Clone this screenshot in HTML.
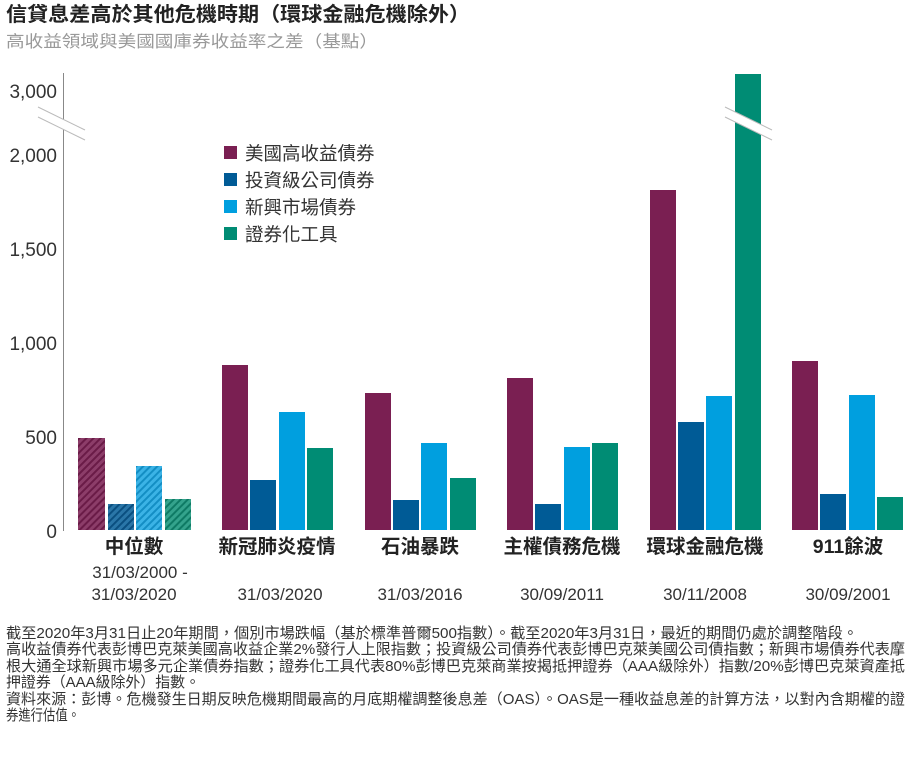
<!DOCTYPE html>
<html><head><meta charset="utf-8"><style>
body{margin:0;background:#fff;width:916px;height:769px;overflow:hidden;}
</style></head><body>
<svg width="916" height="769" style="position:absolute;left:0;top:0" font-family="Liberation Sans, Noto Sans CJK TC, sans-serif">
<defs>
<pattern id="hp" width="5" height="5" patternUnits="userSpaceOnUse" patternTransform="rotate(45)"><rect width="5" height="5" fill="#8c3d69"/><rect width="2" height="5" fill="#6a1b47"/></pattern>
<pattern id="hb" width="5" height="5" patternUnits="userSpaceOnUse" patternTransform="rotate(45)"><rect width="5" height="5" fill="#2a76a8"/><rect width="2" height="5" fill="#0a4f80"/></pattern>
<pattern id="hl" width="5" height="5" patternUnits="userSpaceOnUse" patternTransform="rotate(45)"><rect width="5" height="5" fill="#3bb3e6"/><rect width="2" height="5" fill="#138ec4"/></pattern>
<pattern id="hg" width="5" height="5" patternUnits="userSpaceOnUse" patternTransform="rotate(45)"><rect width="5" height="5" fill="#34a38c"/><rect width="2" height="5" fill="#0e7a64"/></pattern>
</defs>
<text x="6" y="21" font-size="20" font-weight="bold" fill="#222" textLength="464" lengthAdjust="spacingAndGlyphs">信貸息差高於其他危機時期（環球金融危機除外）</text>
<text x="6" y="47" font-size="16.5" fill="#999" textLength="372" lengthAdjust="spacingAndGlyphs">高收益領域與美國國庫券收益率之差（基點）</text>
<line x1="63.5" y1="73" x2="63.5" y2="531" stroke="#888" stroke-width="1"/>
<polygon points="38,107 85,130 85,140 38,117" fill="#fff"/>
<line x1="38" y1="107" x2="85" y2="130" stroke="#bbb"/>
<line x1="38" y1="117" x2="85" y2="140" stroke="#bbb"/>
<g font-size="19" fill="#333" text-anchor="end">
<text x="57" y="98">3,000</text>
<text x="57" y="162">2,000</text>
<text x="57" y="256">1,500</text>
<text x="57" y="350">1,000</text>
<text x="57" y="444">500</text>
<text x="57" y="538">0</text>
</g>
<rect x="78" y="438" width="27" height="92" fill="url(#hp)"/>
<rect x="108" y="504" width="26" height="26" fill="url(#hb)"/>
<rect x="136" y="466" width="26" height="64" fill="url(#hl)"/>
<rect x="165" y="499" width="26" height="31" fill="url(#hg)"/>
<g>
<rect x="222" y="365" width="26" height="165" fill="#7a1f52"/><rect x="250" y="480" width="26" height="50" fill="#005b96"/><rect x="279" y="412" width="26" height="118" fill="#009fdf"/><rect x="307" y="448" width="26" height="82" fill="#008c74"/>
<rect x="365" y="393" width="26" height="137" fill="#7a1f52"/><rect x="393" y="500" width="26" height="30" fill="#005b96"/><rect x="421" y="443" width="26" height="87" fill="#009fdf"/><rect x="450" y="478" width="26" height="52" fill="#008c74"/>
<rect x="507" y="378" width="26" height="152" fill="#7a1f52"/><rect x="535" y="504" width="26" height="26" fill="#005b96"/><rect x="564" y="447" width="26" height="83" fill="#009fdf"/><rect x="592" y="443" width="26" height="87" fill="#008c74"/>
<rect x="650" y="190" width="26" height="340" fill="#7a1f52"/><rect x="678" y="422" width="26" height="108" fill="#005b96"/><rect x="706" y="396" width="26" height="134" fill="#009fdf"/><rect x="735" y="74" width="26" height="456" fill="#008c74"/>
<rect x="792" y="361" width="26" height="169" fill="#7a1f52"/><rect x="820" y="494" width="26" height="36" fill="#005b96"/><rect x="849" y="395" width="26" height="135" fill="#009fdf"/><rect x="877" y="497" width="26" height="33" fill="#008c74"/>
</g>
<polygon points="725,107 772,130 772,140 725,117" fill="#fff"/>
<line x1="725" y1="107" x2="772" y2="130" stroke="#bbb"/>
<line x1="725" y1="117" x2="772" y2="140" stroke="#bbb"/>
<g font-size="18.5" fill="#333">
<rect x="224" y="146" width="13" height="13" fill="#7a1f52"/><text x="245" y="160">美國高收益債券</text>
<rect x="224" y="173" width="13" height="13" fill="#005b96"/><text x="245" y="187">投資級公司債券</text>
<rect x="224" y="200" width="13" height="13" fill="#009fdf"/><text x="245" y="214">新興市場債券</text>
<rect x="224" y="227" width="13" height="13" fill="#008c74"/><text x="245" y="241">證券化工具</text>
</g>
<g font-size="19.5" font-weight="bold" fill="#222" text-anchor="middle">
<text x="134" y="553">中位數</text><text x="277" y="553">新冠肺炎疫情</text><text x="420" y="553">石油暴跌</text><text x="562" y="553">主權債務危機</text><text x="705" y="553">環球金融危機</text><text x="848" y="553">911餘波</text>
</g>
<g font-size="17" fill="#333" text-anchor="middle">
<text x="140" y="578">31/03/2000 -</text><text x="134" y="600">31/03/2020</text>
<text x="280" y="600">31/03/2020</text><text x="420" y="600">31/03/2016</text><text x="562" y="600">30/09/2011</text><text x="705" y="600">30/11/2008</text><text x="848" y="600">30/09/2001</text>
</g>
<g font-size="15" fill="#333">
<text x="6" y="638" textLength="852" lengthAdjust="spacingAndGlyphs">截至2020年3月31日止20年期間，個別市場跌幅（基於標準普爾500指數）。截至2020年3月31日，最近的期間仍處於調整階段。</text>
<text x="6" y="654" textLength="899" lengthAdjust="spacingAndGlyphs">高收益債券代表彭博巴克萊美國高收益企業2%發行人上限指數；投資級公司債券代表彭博巴克萊美國公司債指數；新興市場債券代表摩</text>
<text x="6" y="671" textLength="899" lengthAdjust="spacingAndGlyphs">根大通全球新興市場多元企業債券指數；證券化工具代表80%彭博巴克萊商業按揭抵押證券（AAA級除外）指數/20%彭博巴克萊資產抵</text>
<text x="6" y="687" textLength="194" lengthAdjust="spacingAndGlyphs">押證券（AAA級除外）指數。</text>
<text x="6" y="704" textLength="899" lengthAdjust="spacingAndGlyphs">資料來源：彭博。危機發生日期反映危機期間最高的月底期權調整後息差（OAS）。OAS是一種收益息差的計算方法，以對內含期權的證</text>
<text x="6" y="720" textLength="74" lengthAdjust="spacingAndGlyphs">券進行估值。</text>
</g>
</svg>
</body></html>
